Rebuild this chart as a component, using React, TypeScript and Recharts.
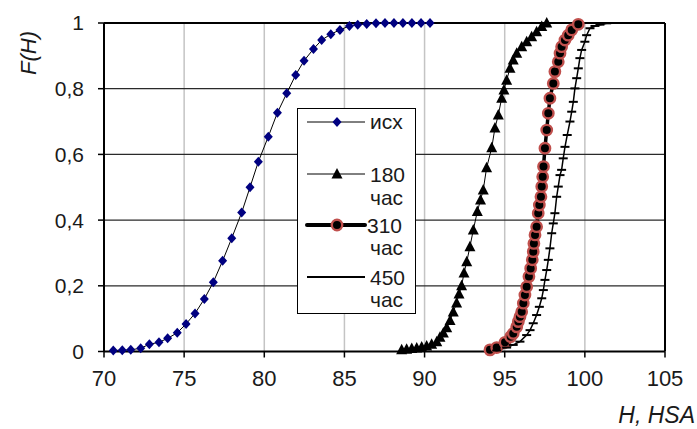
import React from 'react';
import { LineChart, Line, XAxis, YAxis, CartesianGrid, Legend, ReferenceLine, Label } from 'recharts';

// axis ticks
const xTicks = [70, 75, 80, 85, 90, 95, 100, 105];
const yTicks = [0, 0.2, 0.4, 0.6, 0.8, 1];

// исх
const hIsh = [70.58, 71.14, 71.67, 72.29, 72.83, 73.43, 73.97, 74.57, 75.12, 75.68, 76.26, 76.82, 77.4, 77.97, 78.59, 79.11, 79.63, 80.25, 80.82, 81.4, 81.96, 82.48, 83.07, 83.58, 84.15, 84.72, 85.31, 85.83, 86.39, 86.97, 87.53, 88.09, 88.65, 89.21, 89.78, 90.34];
const fIsh = [0.003, 0.004, 0.005, 0.01, 0.022, 0.028, 0.04, 0.057, 0.084, 0.116, 0.16, 0.211, 0.276, 0.345, 0.423, 0.5, 0.578, 0.654, 0.727, 0.786, 0.842, 0.885, 0.921, 0.948, 0.966, 0.979, 0.991, 0.995, 0.997, 0.999, 1, 1, 1, 1, 1, 1];

// 180 час
const h180 = [88.57, 88.88, 89.2, 89.51, 89.82, 90.13, 90.44, 90.76, 90.96, 91.17, 91.38, 91.59, 91.79, 92.0, 92.15, 92.31, 92.46, 92.63, 92.83, 93.04, 93.29, 93.49, 93.66, 93.87, 94.19, 94.39, 94.6, 94.81, 94.95, 95.12, 95.33, 95.53, 95.75, 96.06, 96.37, 96.68, 96.99, 97.31, 97.62];
const f180 = [0.005, 0.007, 0.009, 0.011, 0.014, 0.017, 0.022, 0.03, 0.043, 0.056, 0.072, 0.094, 0.12, 0.148, 0.175, 0.2, 0.239, 0.273, 0.319, 0.37, 0.426, 0.461, 0.492, 0.559, 0.62, 0.68, 0.72, 0.771, 0.796, 0.826, 0.862, 0.887, 0.908, 0.928, 0.943, 0.958, 0.973, 0.989, 1];

// 310 час
const h310 = [94.08, 94.5, 95.02, 95.37, 95.53, 95.75, 95.85, 95.95, 96.06, 96.16, 96.26, 96.37, 96.51, 96.62, 96.72, 96.78, 96.82, 96.89, 96.99, 97.09, 97.16, 97.26, 97.31, 97.37, 97.42, 97.51, 97.62, 97.72, 97.82, 98.03, 98.13, 98.34, 98.45, 98.55, 98.76, 98.96, 99.18, 99.59];
const f310 = [0.005, 0.012, 0.028, 0.045, 0.055, 0.075, 0.091, 0.106, 0.121, 0.147, 0.172, 0.197, 0.228, 0.253, 0.279, 0.304, 0.329, 0.355, 0.38, 0.421, 0.446, 0.471, 0.502, 0.532, 0.563, 0.619, 0.674, 0.725, 0.771, 0.816, 0.852, 0.882, 0.908, 0.928, 0.948, 0.963, 0.979, 0.996];

// 450 час
const h450 = [94.5, 95.12, 95.53, 95.95, 96.37, 96.58, 96.78, 96.99, 97.16, 97.31, 97.41, 97.51, 97.62, 97.72, 97.82, 97.93, 98.03, 98.13, 98.24, 98.34, 98.45, 98.55, 98.65, 98.76, 98.9, 99.07, 99.18, 99.28, 99.38, 99.49, 99.59, 99.69, 99.8, 100.0, 100.11, 100.32, 100.63, 100.94, 101.36];
const f450 = [0.003, 0.012, 0.02, 0.03, 0.05, 0.065, 0.086, 0.111, 0.136, 0.162, 0.187, 0.218, 0.248, 0.279, 0.314, 0.36, 0.39, 0.421, 0.471, 0.502, 0.537, 0.553, 0.588, 0.623, 0.659, 0.7, 0.73, 0.76, 0.801, 0.832, 0.862, 0.893, 0.918, 0.943, 0.963, 0.984, 0.991, 0.995, 0.999];

const zip = (h: number[], f: number[]) => h.map((x, i) => ({ x, y: f[i] }));

const FONT = '"Liberation Sans", Arial, sans-serif';
const RED = '#c0504d';
const INK = '#1a1a1a';

const diamond = (p: any) => {
  const { cx, cy, index } = p;
  if (cx == null || cy == null) return <g key={`di-${index}`} />;
  return <path key={`di-${index}`} d={`M${cx},${cy - 5} L${cx + 4.5},${cy} L${cx},${cy + 5} L${cx - 4.5},${cy} Z`} fill="#000080" />;
};

const triangle = (p: any) => {
  const { cx, cy, index } = p;
  if (cx == null || cy == null) return <g key={`tr-${index}`} />;
  return <path key={`tr-${index}`} d={`M${cx},${cy - 6} L${cx + 5.5},${cy + 4.5} L${cx - 5.5},${cy + 4.5} Z`} fill="#000" />;
};

const circle = (p: any) => {
  const { cx, cy, index } = p;
  if (cx == null || cy == null) return <g key={`ci-${index}`} />;
  return <circle key={`ci-${index}`} cx={cx} cy={cy} r={5.2} fill="#000" stroke={RED} strokeWidth={2.4} />;
};

const dash = (p: any) => {
  const { cx, cy, index } = p;
  if (cx == null || cy == null) return <g key={`da-${index}`} />;
  return <line key={`da-${index}`} x1={cx - 4.5} x2={cx + 4.5} y1={cy} y2={cy} stroke="#000" strokeWidth={2} />;
};

const txt = { fontFamily: FONT, fontSize: 21, fill: INK };

const renderLegend = () => (
  <svg width={119} height={206} style={{ display: 'block' }}>
    <rect x={0.5} y={0.5} width={118} height={205} fill="#fff" stroke="#000" strokeWidth={1} />
    <line x1={10} x2={68} y1={14} y2={14} stroke="#000" strokeWidth={1} />
    {diamond({ cx: 40, cy: 14, index: 'l' })}
    <text x={73} y={21} {...txt}>исх</text>

    <line x1={10} x2={68} y1={66} y2={66} stroke="#000" strokeWidth={1} />
    {triangle({ cx: 40, cy: 66, index: 'l' })}
    <text x={73} y={74} {...txt}>180</text>
    <text x={73} y={97} {...txt}>час</text>

    <line x1={10} x2={68} y1={117} y2={117} stroke="#000" strokeWidth={4} strokeLinecap="round" />
    {circle({ cx: 40, cy: 117, index: 'l' })}
    <text x={70} y={125} {...txt}>310</text>
    <text x={73} y={147} {...txt}>час</text>

    <line x1={10} x2={68} y1={169} y2={169} stroke="#000" strokeWidth={2} />
    <text x={73} y={177} {...txt}>450</text>
    <text x={73} y={199} {...txt}>час</text>
  </svg>
);

export default function App() {
  return (
    <div style={{ position: 'absolute', left: 0, top: 0, background: '#fff' }}>
      <LineChart width={697} height={429} margin={{ top: 23, right: 32, left: 44, bottom: 37.5 }}>
        <CartesianGrid horizontal={false} stroke="#c4c4c4" strokeWidth={1.5} />
        <CartesianGrid vertical={false} stroke="#2a2a2a" strokeWidth={1.2} />
        <XAxis
          dataKey="x"
          type="number"
          domain={[70, 105]}
          ticks={xTicks}
          allowDataOverflow
          height={40}
          axisLine={{ stroke: '#000', strokeWidth: 2 }}
          tickLine={{ stroke: '#000', strokeWidth: 1.5 }}
          tickSize={6}
          tickMargin={13}
          tick={{ fill: INK, fontSize: 22, fontFamily: FONT }}
        >
          <Label
            content={() => (
              <text x={695} y={423} textAnchor="end" fontFamily={FONT} fontSize={23} fontStyle="italic" fill={INK}>
                H, HSA
              </text>
            )}
          />
        </XAxis>
        <YAxis
          type="number"
          domain={[0, 1]}
          ticks={yTicks}
          width={60}
          axisLine={{ stroke: '#000', strokeWidth: 2 }}
          tickLine={{ stroke: '#000', strokeWidth: 1.5 }}
          tickSize={6}
          tickMargin={14}
          tickFormatter={(v: number) => String(v).replace('.', ',')}
          tick={{ fill: INK, fontSize: 21, fontFamily: FONT }}
        >
          <Label
            content={() => (
              <text x={28} y={53} transform="rotate(-90 28 53)" textAnchor="middle" dominantBaseline="central" fontFamily={FONT} fontSize={22} fontStyle="italic" fill={INK}>
                F(H)
              </text>
            )}
          />
        </YAxis>
        <ReferenceLine y={1} stroke="#000" strokeWidth={2} />
        <ReferenceLine x={105} stroke="#000" strokeWidth={2} />
        <Line data={zip(hIsh, fIsh)} dataKey="y" name="исх" stroke="#000" strokeWidth={1} dot={diamond} activeDot={false} isAnimationActive={false} />
        <Line data={zip(h180, f180)} dataKey="y" name="180 час" stroke="#000" strokeWidth={1} dot={triangle} activeDot={false} isAnimationActive={false} />
        <Line data={zip(h310, f310)} dataKey="y" name="310 час" stroke="#000" strokeWidth={3.5} dot={circle} activeDot={false} isAnimationActive={false} />
        <Line data={zip(h450, f450)} dataKey="y" name="450 час" stroke="#000" strokeWidth={1.5} dot={dash} activeDot={false} isAnimationActive={false} />
        <Legend
          layout="vertical"
          align="center"
          verticalAlign="middle"
          content={renderLegend}
          wrapperStyle={{ position: 'absolute', left: 297, top: 108, width: 119, height: 206 }}
        />
      </LineChart>
    </div>
  );
}
